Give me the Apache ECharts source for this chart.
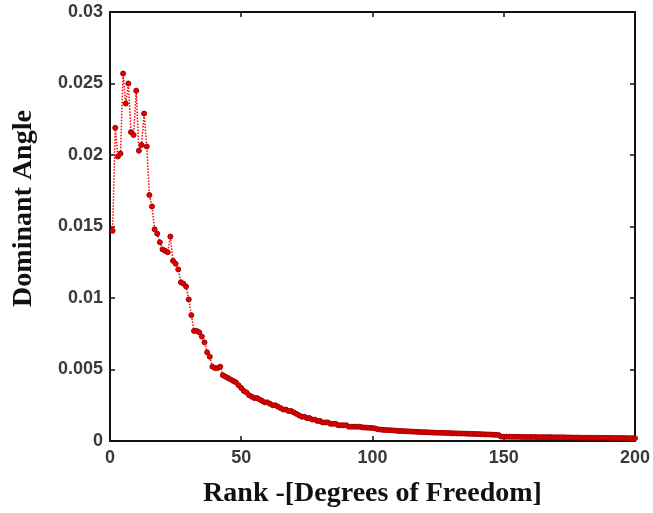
<!DOCTYPE html>
<html>
<head>
<meta charset="utf-8">
<script src="https://cdn.jsdelivr.net/npm/echarts@6/dist/echarts.min.js"></script>
<style>
  html, body { margin: 0; padding: 0; background: #fff; }
  #chart { width: 653px; height: 513px; }
</style>
</head>
<body>
<div id="chart"></div>
<script>
// Dominant angle per rank (degrees of freedom 1..200)
const ranks = Array.from({ length: 200 }, (_, i) => i + 1);

const anglesHead = [
  0.0147, 0.0219, 0.0199, 0.0201, 0.0257, 0.0236, 0.0250, 0.0216, 0.0214, 0.0245,
  0.0203, 0.0207, 0.0229, 0.0206, 0.0172, 0.0164, 0.0148, 0.0145, 0.0139, 0.0134,
  0.0133, 0.0132, 0.0143, 0.0126, 0.0124, 0.0120, 0.0111, 0.0110, 0.0108, 0.0099,
  0.0088, 0.0077, 0.0077, 0.0076, 0.0073, 0.0069, 0.0062, 0.0059, 0.0052, 0.0051,
  0.0051, 0.0052, 0.0046, 0.0045, 0.0044, 0.0043, 0.0042, 0.0041, 0.0039, 0.0037
];

const anglesMid = [
  0.0035, 0.0034, 0.0032, 0.0031, 0.0030, 0.0030, 0.0029, 0.0028, 0.0027, 0.0027,
  0.0026, 0.0025, 0.0025, 0.0024, 0.0023, 0.0022, 0.0022, 0.0021, 0.0021, 0.0020,
  0.0019, 0.0018, 0.0017, 0.0017, 0.0016, 0.0016, 0.0015, 0.0015, 0.0014, 0.0014,
  0.0013, 0.0013, 0.0013, 0.0012, 0.0012, 0.0012, 0.0011, 0.0011, 0.0011, 0.0011,
  0.0010, 0.0010, 0.0010, 0.0010, 0.0010, 0.00096, 0.00094, 0.00093, 0.00092, 0.00091
];

const anglesTail = [
  0.00088, 0.00082, 0.00080, 0.00078, 0.00077, 0.00076, 0.00075, 0.00074, 0.00072, 0.00070,
  0.00070, 0.00069, 0.00068, 0.00067, 0.00066, 0.00065, 0.00064, 0.00063, 0.00062, 0.00062,
  0.00061, 0.00060, 0.00059, 0.00058, 0.00058, 0.00057, 0.00057, 0.00056, 0.00056, 0.00054,
  0.00054, 0.00053, 0.00053, 0.00052, 0.00052, 0.00051, 0.00050, 0.00050, 0.00049, 0.00049,
  0.00048, 0.00047, 0.00046, 0.00046, 0.00045, 0.00044, 0.00043, 0.00042, 0.00031, 0.00030,
  0.00030, 0.00030, 0.00029, 0.00029, 0.00029, 0.00029, 0.00028, 0.00028, 0.00028, 0.00028,
  0.00028, 0.00028, 0.00027, 0.00027, 0.00027, 0.00027, 0.00027, 0.00027, 0.00026, 0.00026,
  0.00026, 0.00026, 0.00026, 0.00025, 0.00025, 0.00024, 0.00024, 0.00024, 0.00024, 0.00023,
  0.00023, 0.00023, 0.00023, 0.00023, 0.00022, 0.00022, 0.00022, 0.00022, 0.00022, 0.00022,
  0.00021, 0.00021, 0.00021, 0.00021, 0.00021, 0.00021, 0.00020, 0.00020, 0.00020, 0.00020
];

const angles = anglesHead.concat(anglesMid, anglesTail);

const xTicks = [0, 50, 100, 150, 200];
const yTicks = [0, 0.005, 0.01, 0.015, 0.02, 0.025, 0.03];

const xTitle = 'Rank -[Degrees of Freedom]';
const yTitle = 'Dominant Angle';

const chart = echarts.init(document.getElementById('chart'), null, { renderer: 'canvas' });

const tickFont = { fontFamily: 'Liberation Sans, Arial, sans-serif', fontSize: 18, color: '#3a3a3a', fontWeight: 'bold' };
const titleFont = { fontFamily: 'Liberation Serif, Times New Roman, serif', fontSize: 28, fontWeight: 'bold', color: '#111' };

const boxAxis = {
  axisLine: { show: true, onZero: false, lineStyle: { color: '#111', width: 2 } },
  axisTick: { show: true, inside: true, length: 5, lineStyle: { color: '#111', width: 1.5 } },
  splitLine: { show: false }
};

chart.setOption({
  animation: false,
  backgroundColor: '#fff',
  grid: { left: 110, right: 16, top: 12, bottom: 72, containLabel: false },
  xAxis: [
    Object.assign({
      type: 'value', min: 0, max: 200, interval: 50, position: 'bottom',
      name: xTitle, nameLocation: 'middle', nameGap: 39, nameTextStyle: titleFont,
      axisLabel: Object.assign({ margin: 8, formatter: v => xTicks.includes(v) ? String(v) : '' }, tickFont)
    }, boxAxis),
    Object.assign({
      type: 'value', min: 0, max: 200, interval: 50, position: 'top',
      axisLabel: { show: false }
    }, boxAxis)
  ],
  yAxis: [
    Object.assign({
      type: 'value', min: 0, max: 0.03, interval: 0.005, position: 'left',
      name: yTitle, nameLocation: 'middle', nameGap: 72,
      // title sits a little above the axis midpoint
      nameTextStyle: Object.assign({ padding: [0, 0, 0, 36] }, titleFont),
      axisLabel: Object.assign({
        margin: 7,
        formatter: v => {
          const t = yTicks.find(k => Math.abs(k - v) < 1e-9);
          return t === undefined ? '' : String(+t.toFixed(3));
        }
      }, tickFont)
    }, boxAxis),
    Object.assign({
      type: 'value', min: 0, max: 0.03, interval: 0.005, position: 'right',
      axisLabel: { show: false }
    }, boxAxis)
  ],
  series: [{
    type: 'line',
    xAxisIndex: 0,
    yAxisIndex: 0,
    data: ranks.map((r, i) => [r, angles[i]]),
    symbol: 'circle',
    symbolSize: 5,
    showAllSymbol: true,
    itemStyle: { color: '#e60000', borderColor: '#a00000', borderWidth: 1 },
    lineStyle: { color: '#ff0000', width: 1.5, type: 'dotted' },
    clip: false
  }]
});
</script>
</body>
</html>
